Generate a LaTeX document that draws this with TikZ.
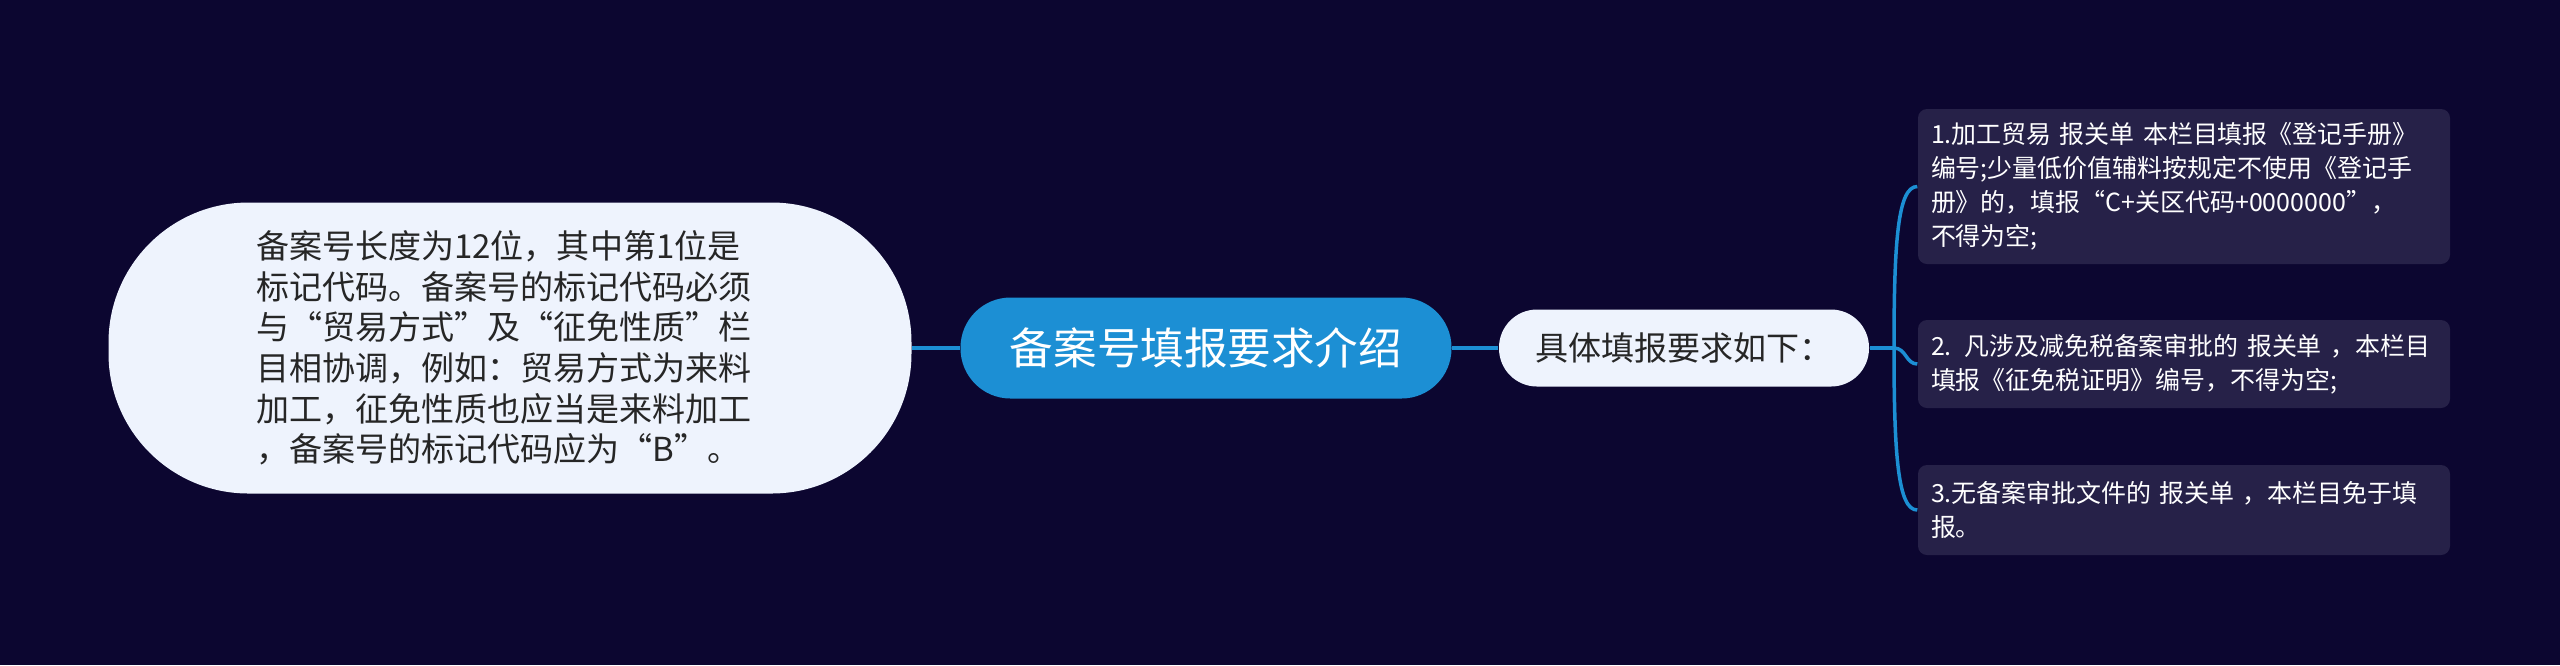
\documentclass[tikz,border=0pt]{standalone}
\usepackage{fontspec}
\setmainfont{Noto Sans CJK SC}
\usetikzlibrary{positioning}

\definecolor{bgnavy}{RGB}{12,6,48}
\definecolor{mapblue}{RGB}{28,143,212}
\definecolor{paleblue}{RGB}{238,243,253}
\definecolor{boxpurple}{RGB}{38,33,72}
\definecolor{inktext}{RGB}{38,38,38}

\begin{document}
\begin{tikzpicture}[x=0.1mm, y=-0.1mm,
    link/.style={mapblue, line width=0.35mm},
    pill/.style={fill=paleblue, text=inktext, rounded corners=14mm, inner sep=0pt},
    itembox/.style={fill=boxpurple, text=white, rounded corners=0.9mm, inner sep=0pt,
        minimum width=53.2mm, text width=50.6mm, align=left,
        font=\fontsize{7.1pt}{9.7pt}\selectfont}]
    % background
    \fill[bgnavy] (0, 0) rectangle (2560, 665);
    \useasboundingbox (0, 0) rectangle (2560, 665);

    % left note
    \node[pill, minimum width=80.3mm, minimum height=29.1mm, text width=50.8mm, align=left,
        font=\fontsize{9.4pt}{11.55pt}\selectfont] (note) at (510, 348)
        {备案号长度为12位，其中第1位是\\
         标记代码。备案号的标记代码必须\\
         与“贸易方式”及“征免性质”栏\\
         目相协调，例如：贸易方式为来料\\
         加工，征免性质也应当是来料加工\\
         ，备案号的标记代码应为“B”。};

    % central topic
    \node[fill=mapblue, text=white, rounded corners=5mm, minimum width=49.1mm, minimum height=10.1mm,
        font=\fontsize{12.4pt}{14pt}\selectfont] (topic) at (1206, 348) {备案号填报要求介绍};

    % intro
    \node[pill, rounded corners=3.8mm, minimum width=37mm, minimum height=7.7mm,
        font=\fontsize{9.4pt}{11pt}\selectfont] (intro) at (1684, 348) {具体填报要求如下：};

    % items
    \node[itembox, minimum height=15.5mm] (item1) at (2184, 186.5)
        {1.加工贸易 报关单 本栏目填报《登记手册》\\
         编号;少量低价值辅料按规定不使用《登记手\\
         册》的，填报“C+关区代码+0000000”，\\
         不得为空;};
    \node[itembox, minimum height=8.8mm] (item2) at (2184, 364)
        {2. 凡涉及减免税备案审批的 报关单 ，本栏目\\
         填报《征免税证明》编号，不得为空;};
    \node[itembox, minimum height=9mm] (item3) at (2184, 510)
        {3.无备案审批文件的 报关单 ，本栏目免于填\\
         报。};

    % connectors
    \draw[link] (note.east) -- (topic.west);
    \draw[link] (topic.east) -- (intro.west);
    \coordinate (fork) at (1894, 348);
    \draw[link] (intro.east) -- (fork);
    \draw[link] (fork) .. controls (1894, 240) and (1898, 186.5) .. (item1.west);
    \draw[link] (fork) .. controls (1906, 348) and (1906, 364) .. (item2.west);
    \draw[link] (fork) .. controls (1894, 456) and (1898, 510) .. (item3.west);
\end{tikzpicture}
\end{document}
